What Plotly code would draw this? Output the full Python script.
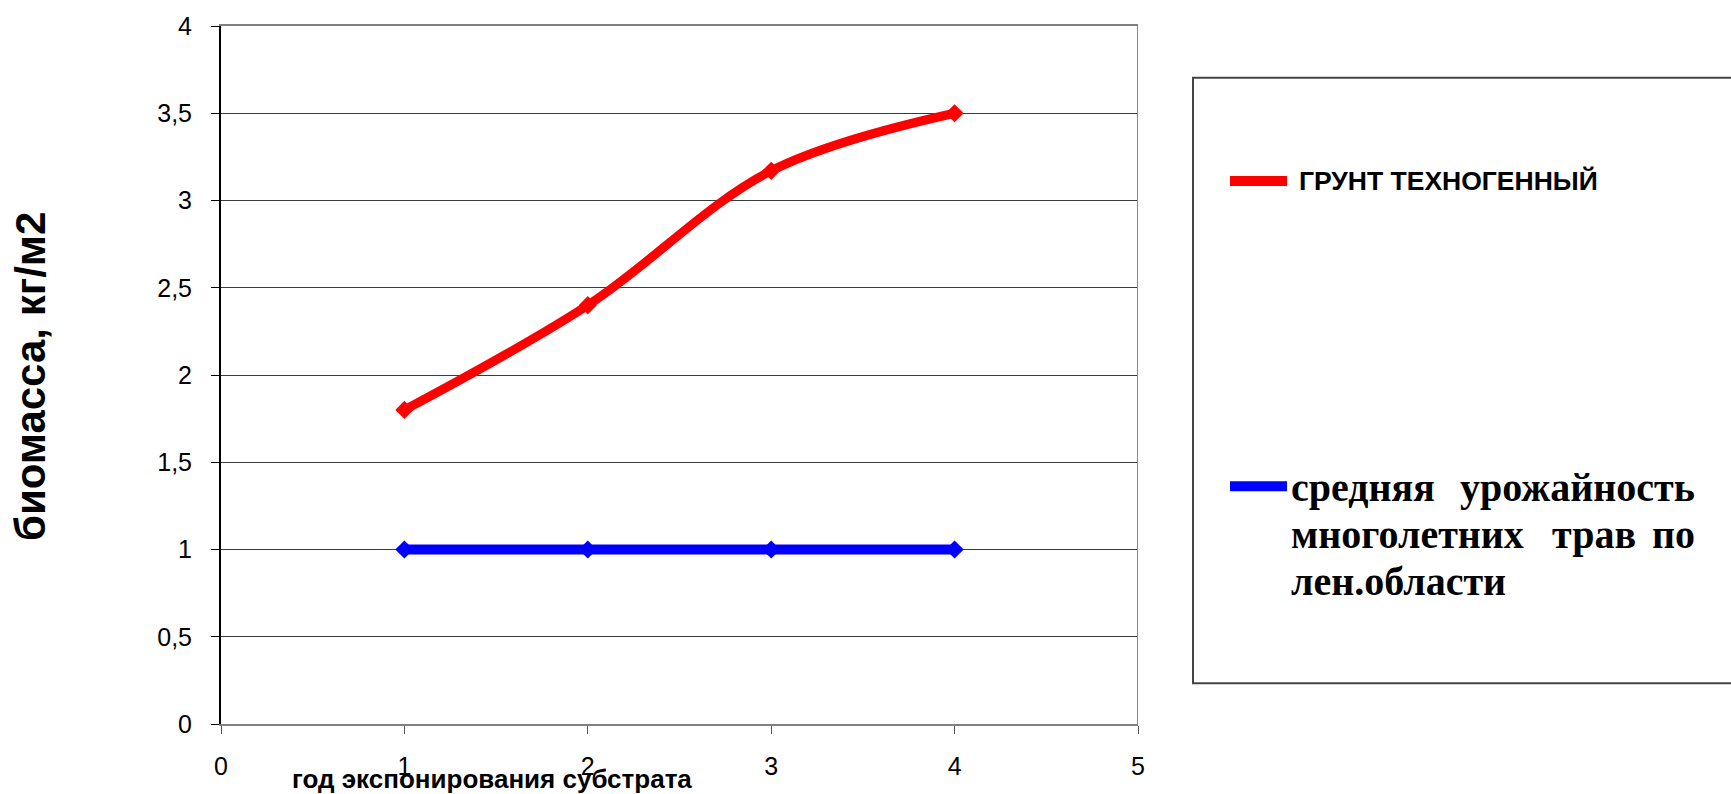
import plotly.graph_objects as go

# Data
years = [1, 2, 3, 4]
grunt_biomass = [1.8, 2.4, 3.17, 3.5]
avg_yield = [1.0, 1.0, 1.0, 1.0]
x_ticks = [0, 1, 2, 3, 4, 5]
y_ticks = [0, 0.5, 1, 1.5, 2, 2.5, 3, 3.5, 4]
y_tick_labels = ["0", "0,5", "1", "1,5", "2", "2,5", "3", "3,5", "4"]
series_names = ["ГРУНТ ТЕХНОГЕННЫЙ", "средняя урожайность многолетних трав по лен.области"]
x_title = "год экспонирования субстрата"
y_title = "биомасса, кг/м2"

W, H = 1731, 794
L, R, T, B = 221, 1138, 22, 724  # plot area in pixels


def px(x):
    return (x - L) / (R - L)


def py(y):
    return (B - y) / (B - T)


fig = go.Figure()
fig.add_trace(go.Scatter(
    x=years, y=grunt_biomass, name=series_names[0], mode="lines+markers",
    line=dict(color="#ff0000", width=9, shape="spline"),
    marker=dict(symbol="diamond", size=14, color="#ff0000"),
))
fig.add_trace(go.Scatter(
    x=years, y=avg_yield, name=series_names[1], mode="lines+markers",
    line=dict(color="#0000ff", width=10),
    marker=dict(symbol="diamond", size=14, color="#0000ff"),
))

shapes = [
    # right border of the plot area
    dict(type="line", xref="x", yref="y domain", x0=5, x1=5, y0=0, y1=1,
         line=dict(color="#888888", width=2)),
    # legend frame
    dict(type="rect", xref="paper", yref="paper", x0=px(1193), x1=px(1760),
         y0=py(683), y1=py(74), line=dict(color="#444444", width=2),
         fillcolor="rgba(0,0,0,0)"),
    # legend samples
    dict(type="line", xref="paper", yref="paper", x0=px(1230), x1=px(1287),
         y0=py(178), y1=py(178), line=dict(color="#ff0000", width=10)),
    dict(type="line", xref="paper", yref="paper", x0=px(1230), x1=px(1287),
         y0=py(485), y1=py(485), line=dict(color="#0000ff", width=10)),
]

annotations = [
    dict(text=f"<b>{y_title}</b>", xref="paper", yref="paper", x=px(31), y=py(375),
         textangle=-90, showarrow=False, xanchor="center", yanchor="middle",
         font=dict(family="Liberation Sans, Arial", size=42, color="black")),
    dict(text=f"<b>{x_title}</b>", xref="paper", yref="paper", x=px(492), y=py(779),
         showarrow=False, xanchor="center", yanchor="middle",
         font=dict(family="Liberation Sans, Arial", size=26, color="black")),
    dict(text=f"<b>{series_names[0]}</b>", xref="paper", yref="paper", x=px(1297), y=py(178),
         showarrow=False, xanchor="left", yanchor="middle",
         font=dict(family="Liberation Sans, Arial", size=26.5, color="black")),
]

# second legend entry, set as justified lines of serif text
serif = dict(family="Liberation Serif, Times New Roman", size=40, color="black")
words = series_names[1].split(" ")
rows = [
    [(words[0], 1289, "left"), (words[1], 1697, "right")],
    [(words[2], 1289, "left"), (words[3], 1594, "center"), (words[4], 1697, "right")],
    [(words[5], 1289, "left")],
]
row_y = [486, 533, 581]
for row, yy in zip(rows, row_y):
    for w, xx, anc in row:
        annotations.append(dict(text=f"<b>{w}</b>", xref="paper", yref="paper",
                                x=px(xx), y=py(yy), showarrow=False,
                                xanchor=anc, yanchor="middle", font=serif))

fig.update_layout(
    width=W, height=H,
    margin=dict(l=L, r=W - R, t=T, b=H - B),
    paper_bgcolor="white", plot_bgcolor="white",
    showlegend=False,
    shapes=shapes, annotations=annotations,
    font=dict(family="Liberation Sans, Arial", color="black"),
    xaxis=dict(range=[0, 5], tickvals=x_ticks, ticktext=[str(v) for v in x_ticks],
               showgrid=False, zeroline=False, showline=True, mirror=True,
               linecolor="#808080", linewidth=2, ticks="outside", ticklen=8,
               tickcolor="#555555", tickfont=dict(size=25, color="black"),
               ticklabelstandoff=11),
    yaxis=dict(range=[0, 4], tickvals=y_ticks, ticktext=y_tick_labels,
               showgrid=True, gridcolor="#3a3a3a", gridwidth=1, zeroline=False,
               showline=True, linecolor="black", linewidth=2, ticks="outside",
               ticklen=8, tickcolor="black", tickfont=dict(size=25, color="black"),
               ticklabelstandoff=14),
)

fig.write_html("out.html")
